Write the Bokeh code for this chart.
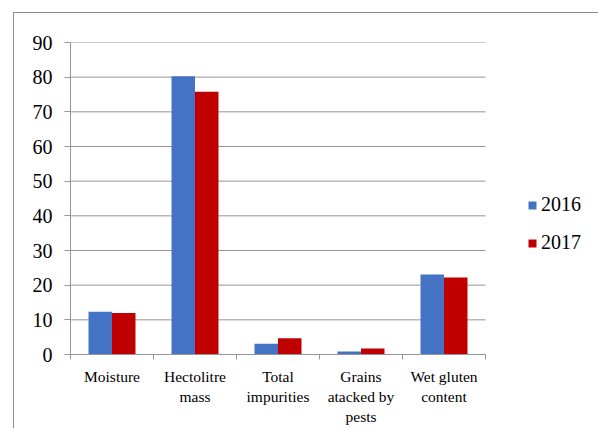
from bokeh.plotting import figure
from bokeh.models import (Range1d, FixedTicker, Legend, LegendItem,
                          ColumnDataSource, InlineStyleSheet)
from bokeh.transform import dodge
from bokeh.embed import file_html
from bokeh.resources import INLINE

categories = ["Moisture", "Hectolitre\nmass", "Total\nimpurities",
              "Grains\natacked by\npests", "Wet gluten\ncontent"]
years = ["2016", "2017"]
values_2016 = [12.3, 80.3, 3.1, 0.9, 23.1]
values_2017 = [12.0, 75.8, 4.7, 1.7, 22.2]
y_ticks = [0, 10, 20, 30, 40, 50, 60, 70, 80, 90]

FONT = "Liberation Serif"
BLUE = "#4472C4"
RED = "#C00000"
GRAY = "#969696"

W, H = 598, 428
LEFT, TOP, BOTTOM = 70, 42, 72
PLOT_RIGHT = 485          # where the category axis ends (pixels)
n = len(categories)
# frame extends to the right edge so the legend can live inside it
x_end = n * (W - LEFT) / (PLOT_RIGHT - LEFT)

pos = [i + 0.5 for i in range(n)]
src = ColumnDataSource(dict(x=pos, v2016=values_2016, v2017=values_2017))

p = figure(width=W, height=H, x_range=Range1d(0, x_end),
           y_range=Range1d(y_ticks[0], y_ticks[-1]),
           output_backend="svg", toolbar_location=None,
           min_border_left=LEFT, min_border_right=0,
           min_border_top=TOP, min_border_bottom=BOTTOM)
p.outline_line_color = None
p.background_fill_color = "white"
p.border_fill_color = "white"
p.xgrid.visible = False
p.ygrid.visible = False

# horizontal gridlines limited to the category area
p.segment(x0=[0] * len(y_ticks), x1=[n] * len(y_ticks), y0=y_ticks, y1=y_ticks,
          line_color=GRAY, line_width=1)

bw = 0.283
r1 = p.vbar(x=dodge("x", -bw / 2), top="v2016", width=bw, source=src,
            fill_color=BLUE, line_color=None)
r2 = p.vbar(x=dodge("x", bw / 2), top="v2017", width=bw, source=src,
            fill_color=RED, line_color=None)

# x axis
xa = p.xaxis[0]
xa.bounds = (0, n)
xa.ticker = FixedTicker(ticks=pos, minor_ticks=list(range(n + 1)))
xa.major_label_overrides = {pos[i]: categories[i] for i in range(n)}
xa.major_tick_line_color = None
xa.minor_tick_in = 0
xa.minor_tick_out = 5
xa.minor_tick_line_color = GRAY
xa.axis_line_color = GRAY
xa.major_label_text_font = FONT
xa.major_label_text_font_size = "15.5px"
xa.major_label_text_color = "black"
xa.major_label_standoff = 7

# y axis
ya = p.yaxis[0]
ya.ticker = FixedTicker(ticks=y_ticks)
ya.major_tick_in = 0
ya.major_tick_out = 6
ya.major_tick_line_color = GRAY
ya.minor_tick_line_color = None
ya.axis_line_color = GRAY
ya.major_label_text_font = FONT
ya.major_label_text_font_size = "20px"
ya.major_label_text_color = "black"
ya.major_label_standoff = 12

legend = Legend(items=[LegendItem(label=years[0], renderers=[r1]),
                       LegendItem(label=years[1], renderers=[r2])],
                location=(457, 100), glyph_width=10, glyph_height=10,
                label_standoff=4, label_height=20, spacing=15, padding=0,
                margin=0, label_text_font=FONT, label_text_font_size="20px",
                label_text_color="black", border_line_color=None,
                background_fill_alpha=0)
p.add_layout(legend)

# outer chart-area border (top and left edges visible in the reference)
p.stylesheets = [InlineStyleSheet(css="""
:host::after {
  content: '';
  position: absolute;
  left: 13px; top: 12px; right: 0; bottom: 0;
  border-left: 1px solid #8c8c8c;
  border-top: 1px solid #8c8c8c;
  pointer-events: none;
  z-index: 10;
}
""")]

open("out.html", "w").write(file_html(p, INLINE))
